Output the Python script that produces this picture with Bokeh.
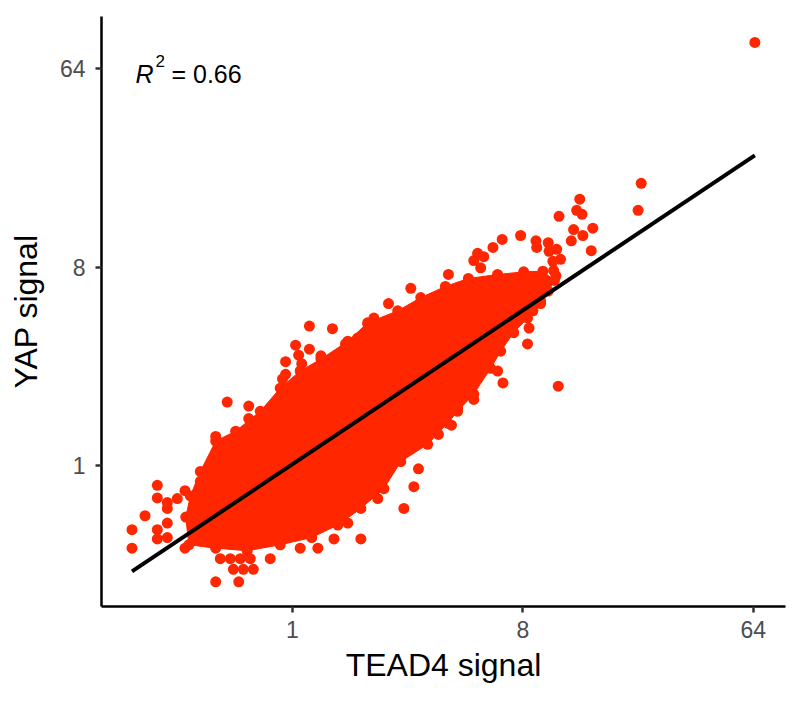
import numpy as np
from bokeh.plotting import figure
from bokeh.models import FixedTicker, Label, Range1d
from bokeh.embed import file_html
from bokeh.resources import INLINE

# ---- values (log2 of the signals) ----
# outline of the dense core of the cloud
core_tead4_log2 = [-1.35, -1.39, -1.33, -1.20, -1.00, -0.74, -0.42, -0.16, 0.10, 0.37,
                   0.72, 0.98, 1.37, 1.67, 1.99, 2.29, 2.67, 3.01, 3.26, 3.41,
                   3.33, 3.23, 3.06, 2.88, 2.71, 2.58, 2.36, 2.15, 2.02, 1.76,
                   1.41, 1.19, 0.89, 0.59, 0.25, -0.16, -0.59, -1.00]
core_yap_log2 = [-1.20, -0.78, -0.46, -0.09, 0.37, 0.52, 0.82, 1.17, 1.43, 1.61,
                 1.88, 2.16, 2.34, 2.54, 2.71, 2.83, 2.89, 2.93, 2.94, 2.80,
                 2.64, 2.45, 2.23, 2.01, 1.73, 1.47, 1.08, 0.82, 0.64, 0.32,
                 0.06, -0.35, -0.65, -0.90, -1.09, -1.20, -1.29, -1.25]

# individual points around the core
pts_tead4_log2 = [6.02, 4.54, 4.50, 3.74, 3.70, 3.77, 3.47, 3.91, 3.66, 3.78,
                  3.63, 3.89, 3.17, 3.33, 3.18, 3.44, 3.34, 2.97, 2.73, 2.61,
                  2.41, 2.49, 2.36, 2.45, 3.49, 3.39, 3.40, 2.03, 1.54, 1.25,
                  3.06, 3.08, 2.74, 3.46, 2.67, 2.36, 2.15, 2.07, 1.90, 3.23,
                  3.13, 1.64, 1.58, 1.45, 0.89, 0.72, 0.54, 1.11, 0.22, 0.52,
                  0.04, 0.22, 0.08, -0.09, 0.12, 0.37, -0.13, -0.09, -0.85, -0.57,
                  -0.57, -1.00, 1.06, 0.98, 0.69, 0.85, -2.09, -2.09, -1.92, -1.76,
                  -1.76, -1.63, -1.63, -1.76, -1.76, -1.63, -1.63, -1.50, -1.40, -1.40,
                  -1.00, -0.70, -1.20, -0.94, -0.81, -0.68, -0.55, -0.29, -0.77, -0.64,
                  -0.51, 0.10, 0.33, 3.43]
pts_yap_log2 = [6.40, 4.27, 3.86, 4.03, 3.86, 3.80, 3.77, 3.59, 3.57, 3.48,
                3.40, 3.25, 3.40, 3.37, 3.30, 3.27, 3.24, 3.48, 3.42, 3.30,
                3.21, 3.16, 3.10, 2.99, 3.12, 3.09, 2.95, 2.89, 2.68, 2.45,
                1.84, 2.08, 1.25, 1.20, 1.43, 1.00, 0.87, 0.61, 0.47, 2.49,
                2.34, -0.05, -0.32, -0.65, -1.11, -0.87, -1.11, -0.50, 2.11, 2.07,
                1.82, 1.76, 1.67, 1.57, 1.54, 1.66, 1.31, 1.38, 0.96, 0.90,
                0.71, 0.44, 2.23, 2.14, 1.84, 1.93, -0.97, -1.25, -0.76, -0.30,
                -0.49, -0.56, -0.65, -0.97, -1.11, -0.87, -1.09, -0.50, -0.38, -1.25,
                -1.76, -1.76, -0.24, -1.41, -1.41, -1.41, -1.41, -1.41, -1.57, -1.57,
                -1.57, -1.25, -1.25, 2.87]

fit_intercept_log2 = 0.02
fit_slope = 0.776
r_squared = 0.66

tick_values = [1, 8, 64]
tick_labels = ["1", "8", "64"]

x_limits_log2 = (-2.487, 6.419)
y_limits_log2 = (-2.133, 6.793)

# ---- derived ----
core_x = 2.0 ** np.array(core_tead4_log2)
core_y = 2.0 ** np.array(core_yap_log2)
pts_x = 2.0 ** np.array(pts_tead4_log2)
pts_y = 2.0 ** np.array(pts_yap_log2)

all_lx = np.array(core_tead4_log2 + pts_tead4_log2)
line_lx = np.array([all_lx.min(), all_lx.max()])
line_x = 2.0 ** line_lx
line_y = 2.0 ** (fit_intercept_log2 + fit_slope * line_lx)

RED = "#FF2600"
FONT = "Liberation Sans"

p = figure(width=786, height=687,
           x_axis_type="log", y_axis_type="log",
           x_range=Range1d(2 ** x_limits_log2[0], 2 ** x_limits_log2[1]),
           y_range=Range1d(2 ** y_limits_log2[0], 2 ** y_limits_log2[1]),
           x_axis_label="TEAD4 signal", y_axis_label="YAP signal",
           output_backend="svg", toolbar_location=None,
           min_border_left=101, min_border_right=1,
           min_border_top=16, min_border_bottom=81)

p.outline_line_color = None
p.grid.visible = False
p.background_fill_color = "white"
p.border_fill_color = "white"

for ax in (p.xaxis[0], p.yaxis[0]):
    ax.ticker = FixedTicker(ticks=tick_values)
    ax.major_label_overrides = {v: s for v, s in zip(tick_values, tick_labels)}
    ax.minor_tick_line_color = None
    ax.axis_line_color = "black"
    ax.axis_line_width = 2.5
    ax.major_tick_line_color = "#333333"
    ax.major_tick_line_width = 2.5
    ax.major_tick_out = 6
    ax.major_tick_in = 0
    ax.major_label_text_font = FONT
    ax.major_label_text_font_size = "23px"
    ax.major_label_text_color = "#4D4D4D"
    ax.axis_label_text_font = FONT
    ax.axis_label_text_font_size = "32px"
    ax.axis_label_text_font_style = "normal"
    ax.axis_label_text_color = "black"

p.xaxis[0].major_label_standoff = 8
p.xaxis[0].axis_label_standoff = 6
p.yaxis[0].major_label_standoff = 10
p.yaxis[0].axis_label_standoff = 13

# dense core
p.patch(core_x, core_y, fill_color=RED, line_color=RED, line_width=1)
p.scatter(core_x, core_y, size=11, marker="circle", fill_color=RED, line_color=None)
# individual points
p.scatter(pts_x, pts_y, size=11, marker="circle", fill_color=RED, line_color=None)
# regression line
p.line(line_x, line_y, line_color="black", line_width=4)

# R^2 annotation
p.add_layout(Label(x=2 ** -2.044, y=2 ** 5.93, text="R", text_font=FONT,
                   text_font_size="25px", text_font_style="italic",
                   text_color="black", text_baseline="alphabetic"))
p.add_layout(Label(x=2 ** -1.784, y=2 ** 6.127, text="2", text_font=FONT,
                   text_font_size="17px", text_color="black",
                   text_baseline="alphabetic"))
p.add_layout(Label(x=2 ** -1.576, y=2 ** 5.93, text=f"= {r_squared:.2f}",
                   text_font=FONT, text_font_size="25px", text_color="black",
                   text_baseline="alphabetic"))

open("out.html", "w").write(file_html(p, INLINE))
